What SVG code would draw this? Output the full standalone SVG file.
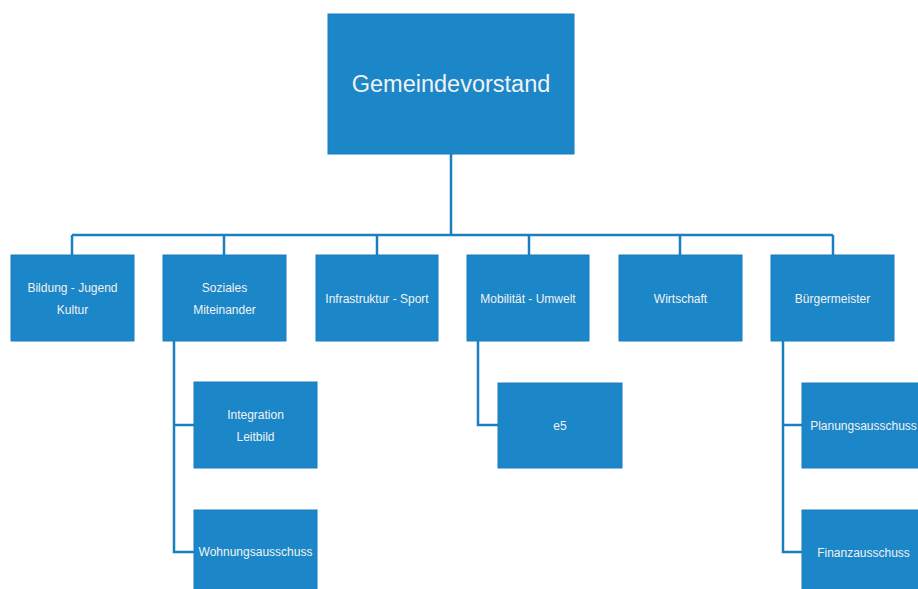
<svg xmlns="http://www.w3.org/2000/svg" width="918" height="589" viewBox="0 0 918 589">
<style>
.box{fill:#1b86c8;stroke:#1a7ec0;stroke-width:1}
.t{font-family:"Liberation Sans",Arial,sans-serif;font-size:12px;fill:#f2f2f2;text-anchor:middle}
.big{font-size:23.5px}
.c{stroke:#1a7fc0;stroke-width:2.5;fill:none}
</style>
<rect width="918" height="589" fill="#ffffff"/>
<g id="connectors">
<path class="c" d="M451 154V235M72 235H833M72 235V255M224 235V255M377 235V255M529 235V255M680 235V255M833 235V255"/>
<path class="c" d="M174 341V552H194M174 425H194"/>
<path class="c" d="M478 341V425H498"/>
<path class="c" d="M783 341V552H802M783 425H802"/>
</g>
<g id="gemeindevorstand"><rect class="box" x="328" y="14" width="246" height="140"/><text class="t big" x="451" y="92">Gemeindevorstand</text></g>
<g id="bildung"><rect class="box" x="11" y="255" width="123" height="86"/><text class="t" x="72.5" y="292">Bildung - Jugend</text><text class="t" x="72.5" y="314">Kultur</text></g>
<g id="soziales"><rect class="box" x="163" y="255" width="123" height="86"/><text class="t" x="224.5" y="292">Soziales</text><text class="t" x="224.5" y="314">Miteinander</text></g>
<g id="infrastruktur"><rect class="box" x="316" y="255" width="122" height="86"/><text class="t" x="377" y="303">Infrastruktur - Sport</text></g>
<g id="mobilitaet"><rect class="box" x="467" y="255" width="122" height="86"/><text class="t" x="528" y="303">Mobilität - Umwelt</text></g>
<g id="wirtschaft"><rect class="box" x="619" y="255" width="123" height="86"/><text class="t" x="680.5" y="303">Wirtschaft</text></g>
<g id="buergermeister"><rect class="box" x="771" y="255" width="123" height="86"/><text class="t" x="832.5" y="303">Bürgermeister</text></g>
<g id="integration"><rect class="box" x="194" y="382" width="123" height="86"/><text class="t" x="255.5" y="419">Integration</text><text class="t" x="255.5" y="441">Leitbild</text></g>
<g id="wohnungsausschuss"><rect class="box" x="194" y="510" width="123" height="86"/><text class="t" x="255.5" y="556">Wohnungsausschuss</text></g>
<g id="e5"><rect class="box" x="498" y="383" width="124" height="85"/><text class="t" x="560" y="430">e5</text></g>
<g id="planungsausschuss"><rect class="box" x="802" y="383" width="123" height="85"/><text class="t" x="863.5" y="430">Planungsausschuss</text></g>
<g id="finanzausschuss"><rect class="box" x="802" y="510" width="123" height="86"/><text class="t" x="863.5" y="557">Finanzausschuss</text></g>
</svg>
